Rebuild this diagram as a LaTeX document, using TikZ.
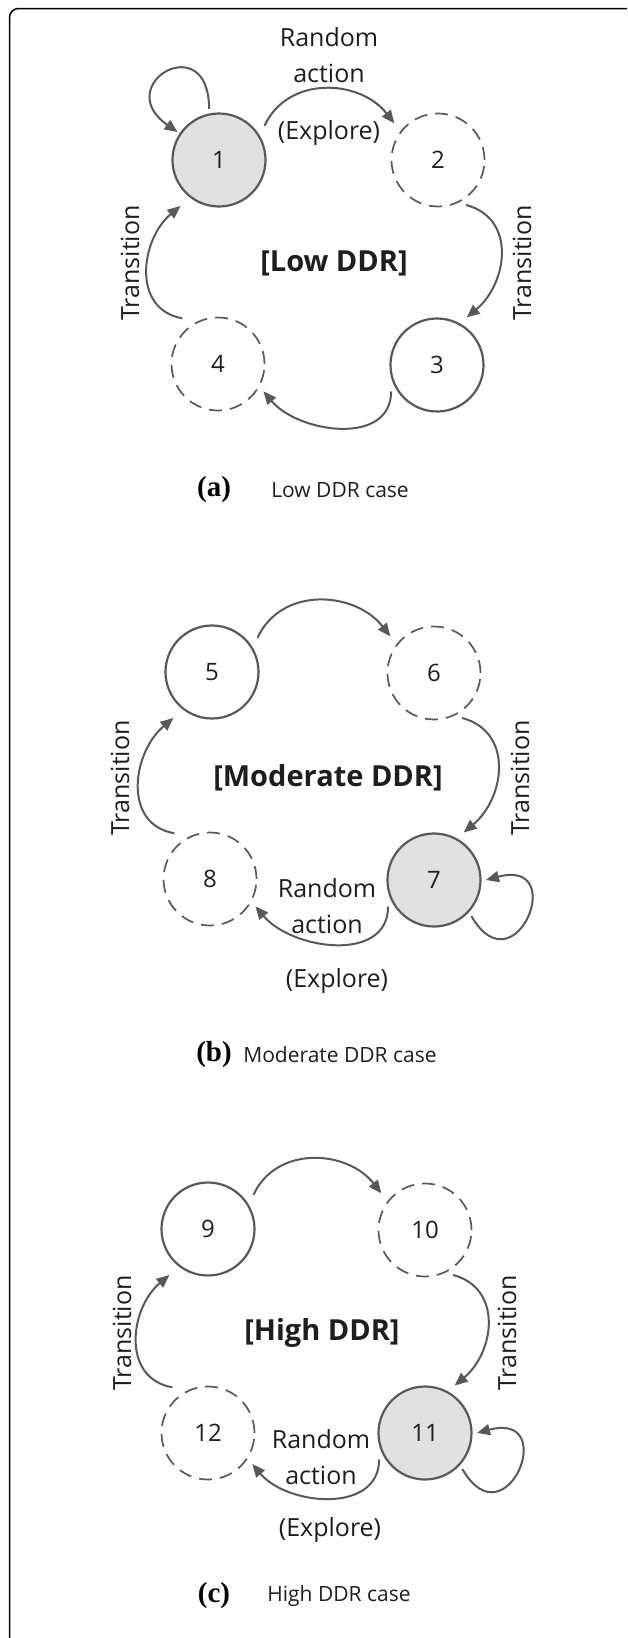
\documentclass[tikz,border=0pt]{standalone}
\usepackage{fontspec}
\setmainfont{Open Sans}
\newfontfamily\capfont{Liberation Serif}
\usetikzlibrary{arrows.meta,calc}

\definecolor{edge}{HTML}{595959}
\definecolor{statefill}{HTML}{E1E1E1}
\definecolor{ink}{HTML}{1E1E1E}

\begin{document}
\begin{tikzpicture}[x=1pt,y=1pt,
  stnode/.style={circle, minimum size=93pt, inner sep=0pt, line width=2.2pt,
    draw=edge, text=ink, font=\fontsize{24}{28}\selectfont},
  current/.style={stnode, fill=statefill},
  visited/.style={stnode},
  unvisited/.style={stnode, line width=1.7pt, dash pattern=on 13pt off 8pt},
  flow/.style={draw=edge, line width=2pt, -{Triangle[length=13pt,width=11pt]}},
  lbl/.style={text=ink, font=\fontsize{25}{30}\selectfont, inner sep=0pt},
  ddrtitle/.style={text=ink, font=\bfseries\fontsize{29}{34}\selectfont, inner sep=0pt},
  sidelbl/.style={lbl, rotate=90},
  tag/.style={text=black, font=\capfont\bfseries\fontsize{29}{33}\selectfont, inner sep=0pt},
  capt/.style={text=ink, font=\fontsize{21}{25}\selectfont, inner sep=0pt},
]
\useasboundingbox (0,0) rectangle (627,-1638);
\clip (0,0) rectangle (627,-1638);

% frame
\draw[black, line width=1.5pt, rounded corners=9pt] (9.5,-8.5) rectangle (645,-1655);

% ---------- (a) Low DDR ----------
\node[current]   (s1) at (219,-160) {1};
\node[unvisited] (s2) at (438,-160) {2};
\node[visited]   (s3) at (437,-365) {3};
\node[unvisited] (s4) at (218,-364) {4};

\draw[flow] ($(s1)+(101:52)$) to[out=90,in=145,looseness=5.4] ($(s1)+(146:50)$);
\draw[flow] ($(s1)+(37:57)$) to[out=65,in=128,looseness=1.1] ($(s2)+(140:57)$);
\draw[flow] ($(s2)+(-58:53)$) to[out=-15,in=40,looseness=1.2] ($(s3)+(58:56)$);
\draw[flow] ($(s3)+(210:53)$) to[out=-90,in=-50,looseness=1.1] ($(s4)+(-31:53)$);
\draw[flow] ($(s4)+(128:58)$) to[out=170,in=-140,looseness=1.18] ($(s1)+(230:60)$);

\node[lbl] (ra) at (329,-37) {Random};
\node[lbl] (aa) at (329,-73) {action};
\node[lbl] (ea) at (329,-133) {(Explore)};
\node[ddrtitle] (ta) at (334,-263) {[Low DDR]};
\node[sidelbl] (tra) at (522,-263) {Transition};
\node[sidelbl] (tla) at (130,-263) {Transition};
\node[tag] (ca) at (214,-490) {(a)};
\node[capt] (da) at (340,-490) {Low DDR case};

% ---------- (b) Moderate DDR ----------
\node[visited]   (s5) at (212,-672) {5};
\node[unvisited] (s6) at (434,-673) {6};
\node[current]   (s7) at (434,-880) {7};
\node[unvisited] (s8) at (210,-879) {8};

\draw[flow] ($(s5)+(37:57)$) to[out=65,in=128,looseness=1.1] ($(s6)+(140:57)$);
\draw[flow] ($(s6)+(-58:53)$) to[out=-15,in=40,looseness=1.2] ($(s7)+(58:56)$);
\draw[flow] ($(s7)+(210:53)$) to[out=-90,in=-50,looseness=1.1] ($(s8)+(-31:53)$);
\draw[flow] ($(s8)+(128:58)$) to[out=170,in=-140,looseness=1.18] ($(s5)+(230:60)$);
\draw[flow] ($(s7)+(-44:52)$) to[out=-60,in=15,looseness=5.7] ($(s7)+(0:52)$);

\node[lbl] (rb) at (327,-888) {Random};
\node[lbl] (ab) at (327,-924) {action};
\node[lbl] (eb) at (337,-981) {(Explore)};
\node[ddrtitle] (tb) at (328,-778) {[Moderate DDR]};
\node[sidelbl] (trb) at (520,-778) {Transition};
\node[sidelbl] (tlb) at (120,-778) {Transition};
\node[tag] (cb) at (214,-1055) {(b)};
\node[capt] (db) at (340,-1055) {Moderate DDR case};

% ---------- (c) High DDR ----------
\node[visited]   (s9)  at (208,-1229) {9};
\node[unvisited] (s10) at (425,-1230) {10};
\node[current]   (s11) at (425,-1433) {11};
\node[unvisited] (s12) at (208,-1433) {12};

\draw[flow] ($(s9)+(37:57)$) to[out=65,in=128,looseness=1.1] ($(s10)+(140:57)$);
\draw[flow] ($(s10)+(-58:53)$) to[out=-15,in=40,looseness=1.2] ($(s11)+(58:56)$);
\draw[flow] ($(s11)+(210:53)$) to[out=-90,in=-50,looseness=1.1] ($(s12)+(-35:54)$);
\draw[flow] ($(s12)+(128:58)$) to[out=170,in=-140,looseness=1.18] ($(s9)+(230:60)$);
\draw[flow] ($(s11)+(-44:52)$) to[out=-60,in=15,looseness=5.7] ($(s11)+(0:52)$);

\node[lbl] (rc) at (321,-1439) {Random};
\node[lbl] (ac) at (321,-1475) {action};
\node[lbl] (ec) at (330,-1530) {(Explore)};
\node[ddrtitle] (tc) at (322,-1333) {[High DDR]};
\node[sidelbl] (trc) at (507,-1333) {Transition};
\node[sidelbl] (tlc) at (122,-1333) {Transition};
\node[tag] (cc) at (214,-1596) {(c)};
\node[capt] (dc) at (339,-1596) {High DDR case};
\end{tikzpicture}
\end{document}
